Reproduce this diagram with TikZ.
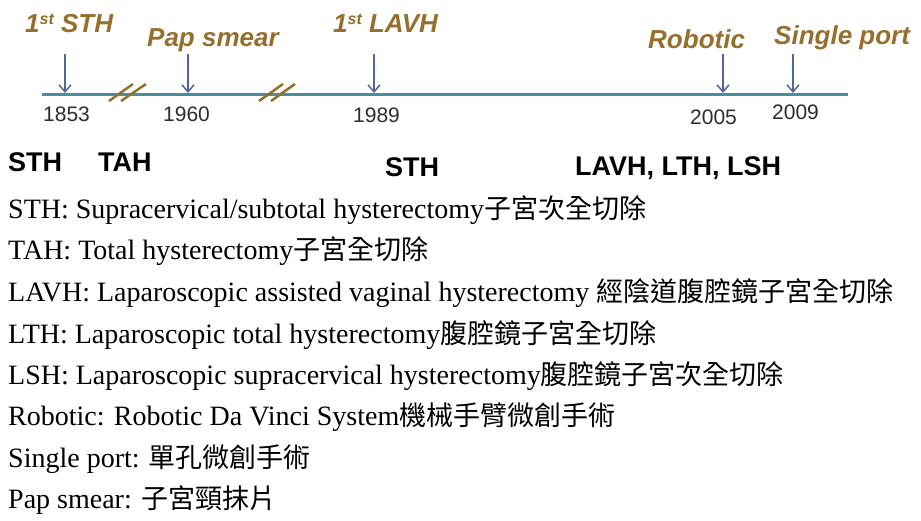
\documentclass[tikz,border=0pt]{standalone}
\usepackage{fontspec}
\setmainfont{Liberation Serif}
\newfontfamily\arialf{Liberation Sans}
\newfontfamily\cjk{Noto Sans CJK TC}
\usetikzlibrary{arrows.meta}
\definecolor{brownlab}{RGB}{150,110,45}
\definecolor{teal1}{RGB}{74,140,160}
\definecolor{arrowc}{RGB}{82,102,158}
\definecolor{yearc}{RGB}{45,45,45}
\tikzset{
  toplab/.style={anchor=base west,inner sep=0pt,text=brownlab,font=\arialf\bfseries\itshape\fontsize{26}{26}\selectfont},
  yearlab/.style={anchor=base west,inner sep=0pt,text=yearc,font=\arialf\fontsize{21}{21}\selectfont},
  eralab/.style={anchor=base west,inner sep=0pt,text=black,font=\arialf\bfseries\fontsize{27}{27}\selectfont},
  legend/.style={anchor=base west,inner sep=0pt,text=black,font=\fontsize{28}{28}\selectfont},
  evarrow/.style={draw=arrowc,line width=1.5pt,-{Straight Barb[length=7pt,width=12pt,line width=1.5pt]}},
  brk/.style={draw=brownlab,line width=2.5pt},
  tline/.style={draw=teal1,line width=3pt}
}
\newcommand{\zh}[1]{{\cjk\fontsize{27}{27}\selectfont #1}}
\newcommand{\sts}{\raisebox{8pt}{\fontsize{16}{16}\selectfont st}}
\begin{document}
\begin{tikzpicture}[x=1pt,y=-1pt]
\useasboundingbox (0,0) rectangle (921,521);
% timeline
\coordinate (t0) at (42,95);
\coordinate (t1) at (848,95);
\draw[tline] (t0) -- (t1);
% break marks
\coordinate (b1a) at (109,101); \coordinate (b1b) at (133,84);
\coordinate (b1c) at (121,101); \coordinate (b1d) at (146,84);
\coordinate (b2a) at (259,101); \coordinate (b2b) at (283,84);
\coordinate (b2c) at (271,101); \coordinate (b2d) at (295,84);
\draw[brk] (b1a) -- (b1b);
\draw[brk] (b1c) -- (b1d);
\draw[brk] (b2a) -- (b2b);
\draw[brk] (b2c) -- (b2d);
% arrows
\foreach \n/\x in {1/65,2/188,3/374,4/723,5/793}{
  \coordinate (s\n) at (\x,54);
  \coordinate (e\n) at (\x,93);
  \draw[evarrow] (s\n) -- (e\n);
}
% top labels
\node[toplab] (l1) at (25,33) {1\sts\ STH};
\node[toplab] (l2) at (147,47) {Pap smear};
\node[toplab] (l3) at (333,33) {1\sts\ LAVH};
\node[toplab] (l4) at (648,49) {Robotic};
\node[toplab] (l5) at (774,45) {Single port};
% years
\node[yearlab] (y1) at (43,122) {1853};
\node[yearlab] (y2) at (163,122) {1960};
\node[yearlab] (y3) at (353,123) {1989};
\node[yearlab] (y4) at (690,125) {2005};
\node[yearlab] (y5) at (772,120) {2009};
% era labels
\node[eralab] (r1) at (8,172) {STH};
\node[eralab] (r2) at (98,172) {TAH};
\node[eralab] (r3) at (385,177) {STH};
\node[eralab] (r4) at (575,176) {LAVH, LTH, LSH};
% legend
\node[legend] (g1) at (8,219) {STH: Supracervical/subtotal hysterectomy\zh{子宮次全切除}};
\node[legend] (g2) at (8,260) {TAH: Total hysterectomy\zh{子宮全切除}};
\node[legend] (g3) at (8,302) {LAVH: Laparoscopic assisted vaginal hysterectomy \zh{經陰道腹腔鏡子宮全切除}};
\node[legend] (g4) at (8,343) {LTH: Laparoscopic total hysterectomy\zh{腹腔鏡子宮全切除}};
\node[legend] (g5) at (8,384) {LSH: Laparoscopic supracervical hysterectomy\zh{腹腔鏡子宮次全切除}};
\node[legend] (g6) at (8,425) {Robotic: Robotic Da Vinci System\zh{機械手臂微創手術}};
\node[legend] (g7) at (8,467) {Single port: \zh{單孔微創手術}};
\node[legend] (g8) at (8,508) {Pap smear: \zh{子宮頸抹片}};
\end{tikzpicture}
\end{document}
